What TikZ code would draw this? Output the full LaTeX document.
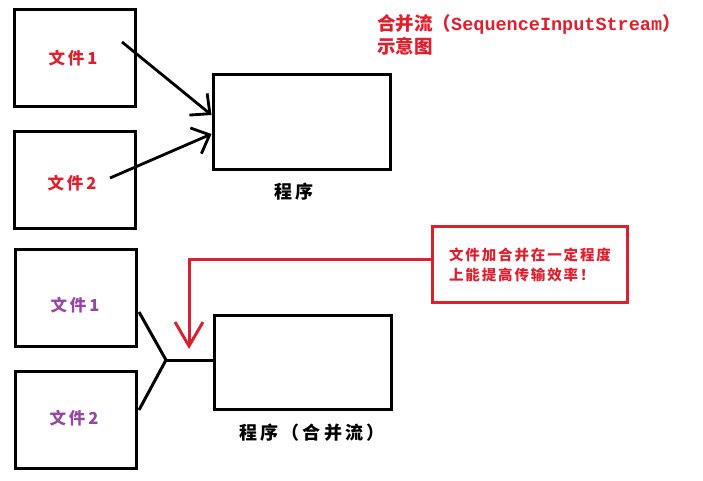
\documentclass[tikz,border=0pt]{standalone}
\usepackage{fontspec}
\newfontfamily\cjk{Noto Sans CJK SC}
\newfontfamily\cjkls{Noto Sans CJK SC}[LetterSpace=18]
\newfontfamily\mono{Liberation Mono}
\usetikzlibrary{arrows.meta,calc}
\definecolor{tred}{RGB}{225,30,45}
\definecolor{tpurple}{RGB}{150,70,165}
\definecolor{bred}{RGB}{215,35,45}
\tikzset{
  filebox/.style={draw=black,line width=3pt,minimum width=121pt,minimum height=97pt,inner sep=0pt},
  flabel/.style={inner sep=0pt,font=\cjkls\fontsize{16.5}{19}\selectfont\bfseries},
  progbox/.style={draw=black,line width=3pt,minimum width=177pt,minimum height=94pt,inner sep=0pt},
  plabel/.style={font=\cjkls\fontsize{18}{21}\selectfont\bfseries,text=black,inner sep=0pt},
  barb/.style={-{Straight Barb[length=15pt,width=28pt]},line width=2.8pt},
}
\begin{document}
\begin{tikzpicture}[x=1pt,y=-1pt]
\useasboundingbox (0,0) rectangle (703,481);
% top part
\node[filebox] (f1) at (75,58) {};
\node[filebox] (f2) at (75,180) {};
\node[flabel,text=tred] (f1t) at (73,58) {文件1};
\node[flabel,text=tred] (f2t) at (72,183) {文件2};
\node[progbox] (p) at (301.5,122) {};
\node[plabel] (pl) at (294,192) {程序};
\coordinate (a1s) at (122,42);
\coordinate (a2s) at (110,178);
\coordinate (a1e) at ($(p.west)+(0,-7)$);
\coordinate (a2e) at ($(p.west)+(0,12)$);
\draw[barb] (a1s) -- (a1e);
\draw[barb] (a2s) -- (a2e);
% title
\node[anchor=west,text=tred,inner sep=0pt,font=\fontsize{18.5}{23}\selectfont\bfseries,align=left] (title) at (377,35)
  {\cjk 合并流（\mono SequenceInputStream\cjk ）\\ \cjk 示意图};
% bottom part
\node[filebox] (g1) at (76,298) {};
\node[filebox] (g2) at (76,420) {};
\node[flabel,text=tpurple] (g1t) at (75,305) {文件1};
\node[flabel,text=tpurple] (g2t) at (74,418) {文件2};
\node[progbox] (q) at (302.5,362.5) {};
\node[plabel] (ql) at (312,433) {程序（合并流）};
\coordinate (j) at (166,360);
\draw[line width=3pt] ($(g1.south east)+(1,-36)$) -- (j) -- ($(g2.north east)+(1,40)$);
\draw[line width=3pt] (j) -- (q.west |- j);
% callout
\node[draw=bred,line width=3pt,minimum width=195pt,minimum height=76pt,inner sep=0pt,align=left,text=tred,
      font=\cjk\fontsize{14.5}{20}\selectfont\bfseries] (c) at (530,264.5)
  {\addfontfeature{LetterSpace=13}文件加合并在一定程度\\ \addfontfeature{LetterSpace=13}上能提高传输效率！};
\coordinate (turn) at (189,259);
\coordinate (rtip) at (189,349);
\draw[draw=bred,line width=3pt,-{Straight Barb[length=24pt,width=28pt]}] (c.west |- turn) -- (turn) -- (rtip);
\end{tikzpicture}
\end{document}
